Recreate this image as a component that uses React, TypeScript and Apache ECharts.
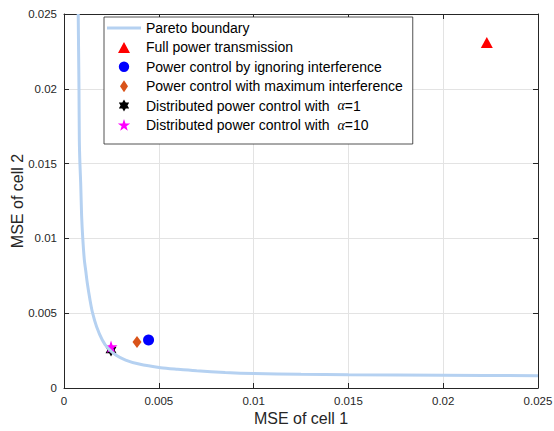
import React, { useEffect, useRef } from "react";
import * as echarts from "echarts";

const paretoX = [0.00075, 0.00077, 0.00079, 0.00081, 0.00084, 0.00088, 0.00093, 0.00099, 0.00107, 0.00115, 0.00123, 0.00137, 0.00151, 0.00172, 0.00202, 0.00232, 0.00273, 0.00325, 0.00396, 0.0051, 0.006, 0.007, 0.0085, 0.01, 0.0125, 0.015, 0.02, 0.025];
const paretoY = [0.025, 0.0225, 0.02, 0.0165, 0.015, 0.0137, 0.0115, 0.01, 0.0086, 0.0078, 0.007, 0.0059, 0.005, 0.0041, 0.00321, 0.00265, 0.00221, 0.00187, 0.0016, 0.00136, 0.00125, 0.00115, 0.00104, 0.00097, 0.00092, 0.00089, 0.00085, 0.00082];

const fullPower = [0.0223, 0.0231];
const ignoringInterference = [0.00446, 0.00321];
const maxInterference = [0.00385, 0.00307];
const distAlpha1 = [0.00248, 0.00254];
const distAlpha10 = [0.00248, 0.00276];

const names = [
  "Pareto boundary",
  "Full power transmission",
  "Power control by ignoring interference",
  "Power control with maximum interference",
  "Distributed power control with  α=1",
  "Distributed power control with  α=10",
];

const hexagram = "path://M10 0 L12.89 5 L18.66 5 L15.77 10 L18.66 15 L12.89 15 L10 20 L7.11 15 L1.34 15 L4.23 10 L1.34 5 L7.11 5 Z";
const pentagram = "path://M10 0 L12.25 6.91 L19.51 6.91 L13.63 11.18 L15.88 18.09 L10 13.82 L4.12 18.09 L6.37 11.18 L0.49 6.91 L7.75 6.91 Z";

// legend icons drawn inside a 34x12 box (corner anchors keep the box size)
const box = "M0 0 L0.01 0 L0 0.01 Z M34 12 L33.99 12 L34 11.99 Z ";
const legendIcons = [
  "path://" + box + "M0 4.6 L34 4.6 L34 7.4 L0 7.4 Z",
  "path://" + box + "M17 0.5 L23 11.5 L11 11.5 Z",
  "path://" + box + "M11.8 6 A5.2 5.2 0 1 0 22.2 6 A5.2 5.2 0 1 0 11.8 6 Z",
  "path://" + box + "M17 0 L21 6 L17 12 L13 6 Z",
  "path://" + box + "M17 0 L18.73 3 L22.2 3 L20.46 6 L22.2 9 L18.73 9 L17 12 L15.27 9 L11.8 9 L13.54 6 L11.8 3 L15.27 3 Z",
  "path://" + box + "M17 0 L18.46 4.49 L23.18 4.49 L19.36 7.27 L20.82 11.76 L17 8.98 L13.18 11.76 L14.64 7.27 L10.82 4.49 L15.54 4.49 Z",
];

const axisColor = "#262626";
const font = "'Liberation Sans', Arial, Helvetica, sans-serif";

export default function App() {
  const ref = useRef<HTMLDivElement>(null);
  useEffect(() => {
    if (!ref.current) return;
    const chart = echarts.init(ref.current, null, { renderer: "svg" });
    const mainAxis = (name: string, gap: number, isX: boolean) => ({
      type: "value",
      min: 0,
      max: 0.025,
      interval: 0.005,
      position: isX ? "bottom" : "left",
      name,
      nameLocation: "middle",
      nameGap: gap,
      nameMoveOverlap: false,
      nameTextStyle: { fontSize: 16, color: axisColor, fontFamily: font },
      axisLine: { show: true, onZero: false, lineStyle: { color: axisColor, width: 1 } },
      axisTick: { show: true, inside: true, length: 5, lineStyle: { color: axisColor } },
      axisLabel: { fontSize: 11.5, color: axisColor, fontFamily: font, margin: 7 },
      splitLine: { show: true, lineStyle: { color: "#e3e3e3", width: 1 } },
    });
    const secAxis = (isX: boolean) => ({
      type: "value",
      min: 0,
      max: 0.025,
      interval: 0.005,
      position: isX ? "top" : "right",
      axisLine: { show: true, onZero: false, lineStyle: { color: axisColor, width: 1 } },
      axisTick: { show: true, inside: true, length: 5, lineStyle: { color: axisColor } },
      axisLabel: { show: false },
      splitLine: { show: false },
    });
    chart.setOption({
      animation: false,
      backgroundColor: "#ffffff",
      grid: { left: 64, top: 14, width: 474, height: 374, containLabel: false, outerBoundsMode: "none" },
      xAxis: [mainAxis("MSE of cell 1", 22, true), secAxis(true)],
      yAxis: [mainAxis("MSE of cell 2", 39, false), secAxis(false)],
      legend: {
        orient: "vertical",
        left: 104,
        top: 17,
        padding: [4, 10, 12, 3],
        itemWidth: 34,
        itemHeight: 12,
        itemGap: 5.4,
        backgroundColor: "#ffffff",
        borderColor: axisColor,
        borderWidth: 0.8,
        data: names.map((n, i) => ({ name: n, icon: legendIcons[i] })),
        formatter: (n: string) => n.replace("α", "{a|α}"),
        textStyle: {
          fontSize: 14,
          lineHeight: 14,
          color: "#000000",
          fontFamily: font,
          rich: {
            a: { fontSize: 14, lineHeight: 14, color: "#000000", fontStyle: "italic", fontFamily: "'Liberation Serif', 'DejaVu Serif', serif" },
          },
        },
      },
      series: [
        {
          name: names[0],
          type: "line",
          data: paretoX.map((x, i) => [x, paretoY[i]]),
          showSymbol: false,
          symbol: "none",
          smooth: 0.3,
          lineStyle: { color: "#b5d1f1", width: 3 },
          itemStyle: { color: "#b5d1f1" },
        },
        {
          name: names[1],
          type: "scatter",
          data: [fullPower],
          symbol: "triangle",
          symbolSize: [12, 11],
          itemStyle: { color: "#ff0000", opacity: 1 },
        },
        {
          name: names[2],
          type: "scatter",
          data: [ignoringInterference],
          symbol: "circle",
          symbolSize: 11,
          itemStyle: { color: "#0000ff", opacity: 1 },
        },
        {
          name: names[3],
          type: "scatter",
          data: [maxInterference],
          symbol: "diamond",
          symbolSize: [9, 12],
          itemStyle: { color: "#d95319", opacity: 1 },
        },
        {
          name: names[4],
          type: "scatter",
          data: [distAlpha1],
          symbol: hexagram,
          symbolSize: [11, 13],
          itemStyle: { color: "#000000", opacity: 1 },
        },
        {
          name: names[5],
          type: "scatter",
          data: [distAlpha10],
          symbol: pentagram,
          symbolSize: [13, 12.5],
          itemStyle: { color: "#ff00ff", opacity: 1 },
        },
      ],
    });
    return () => chart.dispose();
  }, []);
  return (
    <div
      ref={ref}
      style={{ position: "fixed", left: 0, top: 0, width: 554, height: 431, background: "#fff" }}
    />
  );
}
